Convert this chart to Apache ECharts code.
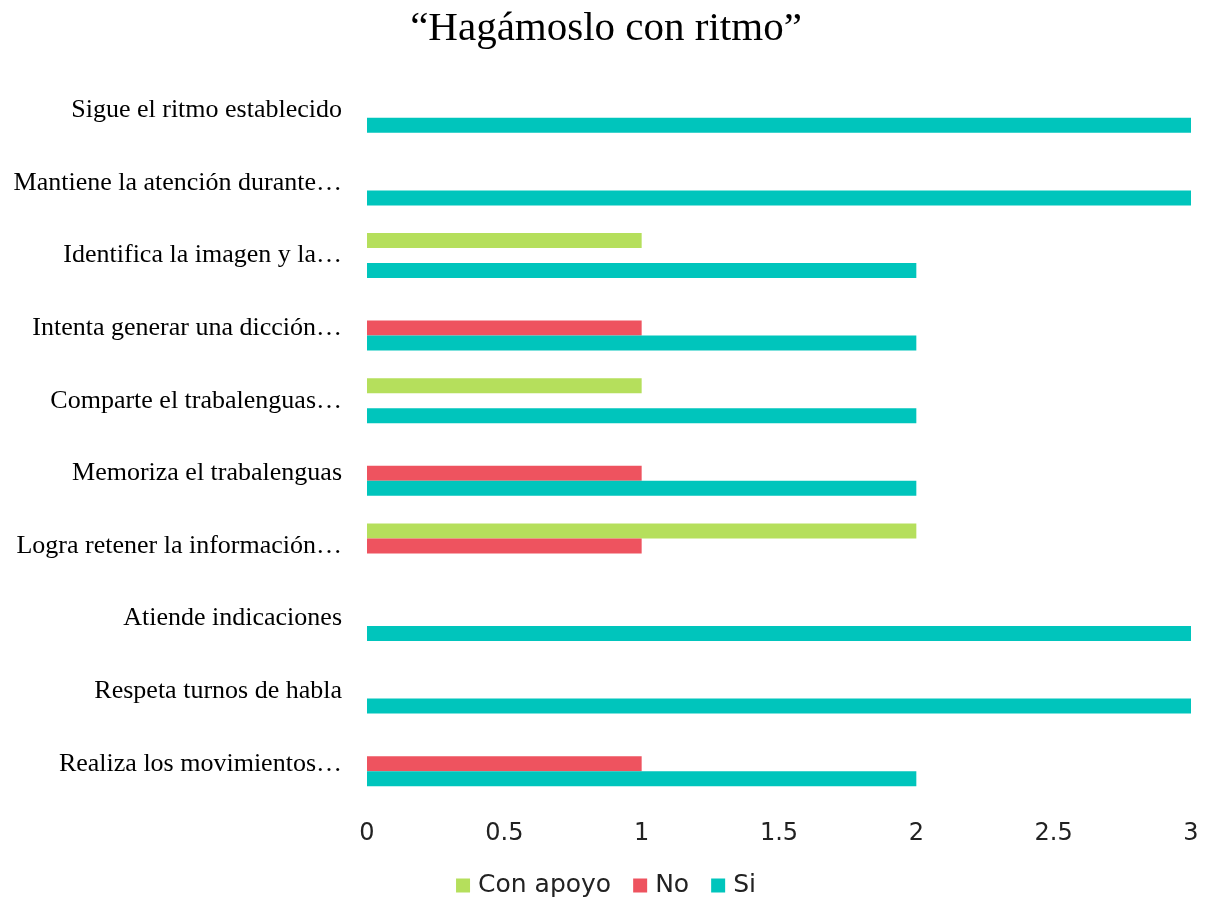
<!DOCTYPE html>
<html>
<head>
<meta charset="utf-8">
<script src="https://cdn.jsdelivr.net/npm/echarts@6/dist/echarts.min.js"></script>
<style>html,body{margin:0;padding:0;background:#fff;}#c{width:1212px;height:900px;}</style>
</head>
<body>
<div id="c"></div>
<script>
const categories = [
  "Realiza los movimientos…",
  "Respeta turnos de habla",
  "Atiende indicaciones",
  "Logra retener la información…",
  "Memoriza el trabalenguas",
  "Comparte el trabalenguas…",
  "Intenta generar una dicción…",
  "Identifica la imagen y la…",
  "Mantiene la atención durante…",
  "Sigue el ritmo establecido"
];
const siValues      = [2, 3, 3, 0, 2, 2, 2, 2, 3, 3];
const noValues      = [1, 0, 0, 1, 1, 0, 1, 0, 0, 0];
const conApoyoValues= [0, 0, 0, 2, 0, 1, 0, 1, 0, 0];
const xTicks = [0, 0.5, 1, 1.5, 2, 2.5, 3];

const chart = echarts.init(document.getElementById('c'));
chart.setOption({
  animation: false,
  title: {
    text: '“Hagámoslo con ritmo”',
    left: 'center', top: 4,
    textStyle: { fontFamily: 'Liberation Serif', fontSize: 41, fontWeight: 'normal', color: '#000' }
  },
  legend: {
    data: ['Con apoyo', 'No', 'Si'],
    top: 868, left: 'center',
    itemWidth: 14, itemHeight: 14, itemGap: 22,
    icon: 'rect',
    textStyle: { fontFamily: 'DejaVu Sans', fontSize: 25, color: '#222', padding: [0, 0, 0, 3] }
  },
  grid: { left: 367, right: 21, top: 74, bottom: 100, containLabel: false },
  xAxis: {
    type: 'value', min: 0, max: 3, interval: 0.5,
    axisLine: { show: false }, axisTick: { show: false }, splitLine: { show: false },
    axisLabel: { margin: 22, fontFamily: 'DejaVu Sans', fontSize: 24, color: '#222',
      formatter: v => String(xTicks.find(t => Math.abs(t - v) < 1e-9) ?? v) }
  },
  yAxis: {
    type: 'category', data: categories,
    axisLine: { show: false }, axisTick: { show: false },
    axisLabel: { margin: 25, fontFamily: 'Liberation Serif', fontSize: 26, color: '#000' }
  },
  series: [
    { name: 'Con apoyo', type: 'bar', data: conApoyoValues, barWidth: 15, barGap: '0%', itemStyle: { color: '#B5DF5C' } },
    { name: 'No', type: 'bar', data: noValues, barWidth: 15, barGap: '0%', itemStyle: { color: '#EE535F' } },
    { name: 'Si', type: 'bar', data: siValues, barWidth: 15, barGap: '0%', itemStyle: { color: '#00C5BC' } }
  ]
});
</script>
</body>
</html>
